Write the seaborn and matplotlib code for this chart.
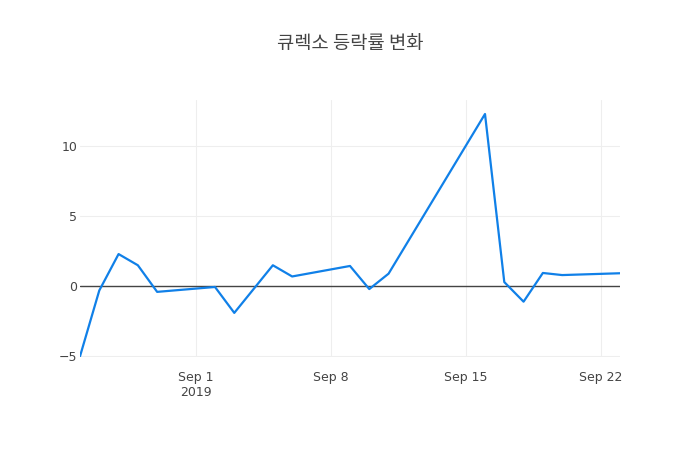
import pandas as pd
import numpy as np
import matplotlib
matplotlib.use("Agg")
import matplotlib.pyplot as plt
import seaborn as sns

# ==========================================
# Data
# ==========================================

dates = [
    "2019-08-26", "2019-08-27", "2019-08-28", "2019-08-29", "2019-08-30",
    "2019-09-02", "2019-09-03", "2019-09-04", "2019-09-05", "2019-09-06",
    "2019-09-09", "2019-09-10", "2019-09-11",
    "2019-09-16", "2019-09-17", "2019-09-18", "2019-09-19", "2019-09-20",
    "2019-09-23",
]
change = [
    -5.0, -0.3, 2.3, 1.5, -0.4,
    -0.05, -1.9, -0.2, 1.5, 0.7,
    1.45, -0.2, 0.9,
    12.3, 0.3, -1.1, 0.95, 0.8,
    0.93,
]

df = pd.DataFrame({"date": pd.to_datetime(dates), "change": change})

# ==========================================
# Plot
# ==========================================

sns.set_style("white")
plt.rcParams["font.family"] = ["DejaVu Sans", "Noto Sans CJK KR"]

fig = plt.figure(figsize=(7, 4.5), dpi=100)
ax = fig.add_axes([80 / 700, (450 - 357) / 450, 540 / 700, 257 / 450])

ax.axhline(0, color="#444444", linewidth=1, zorder=1)
sns.lineplot(data=df, x="date", y="change", ax=ax, color="#1080e8",
             linewidth=1.6, zorder=3)

ax.set_xlim(df["date"].min(), df["date"].max())
ax.set_ylim(-5.05, 13.3)

xticks = pd.to_datetime(["2019-09-01", "2019-09-08", "2019-09-15", "2019-09-22"])
xlabels = ["Sep 1\n2019", "Sep 8", "Sep 15", "Sep 22"]
ax.set_xticks(xticks)
ax.set_xticklabels(xlabels)
ax.set_yticks([-5, 0, 5, 10])

ax.grid(True, color="#eeeeee", linewidth=0.8, zorder=0)
ax.set_axisbelow(True)
for s in ax.spines.values():
    s.set_visible(False)

ax.tick_params(axis="both", length=0, labelsize=9, colors="#444444")
ax.tick_params(axis="x", pad=10)
ax.tick_params(axis="y", pad=2)
ax.set_xlabel("")
ax.set_ylabel("")

fig.text(350 / 700, 1 - 43 / 450, "큐렉소 등락률 변화", ha="center", va="center",
         fontsize=13.5, color="#444444",
         family=["Noto Sans CJK KR", "DejaVu Sans"])

fig.savefig("out.png", dpi=100)
